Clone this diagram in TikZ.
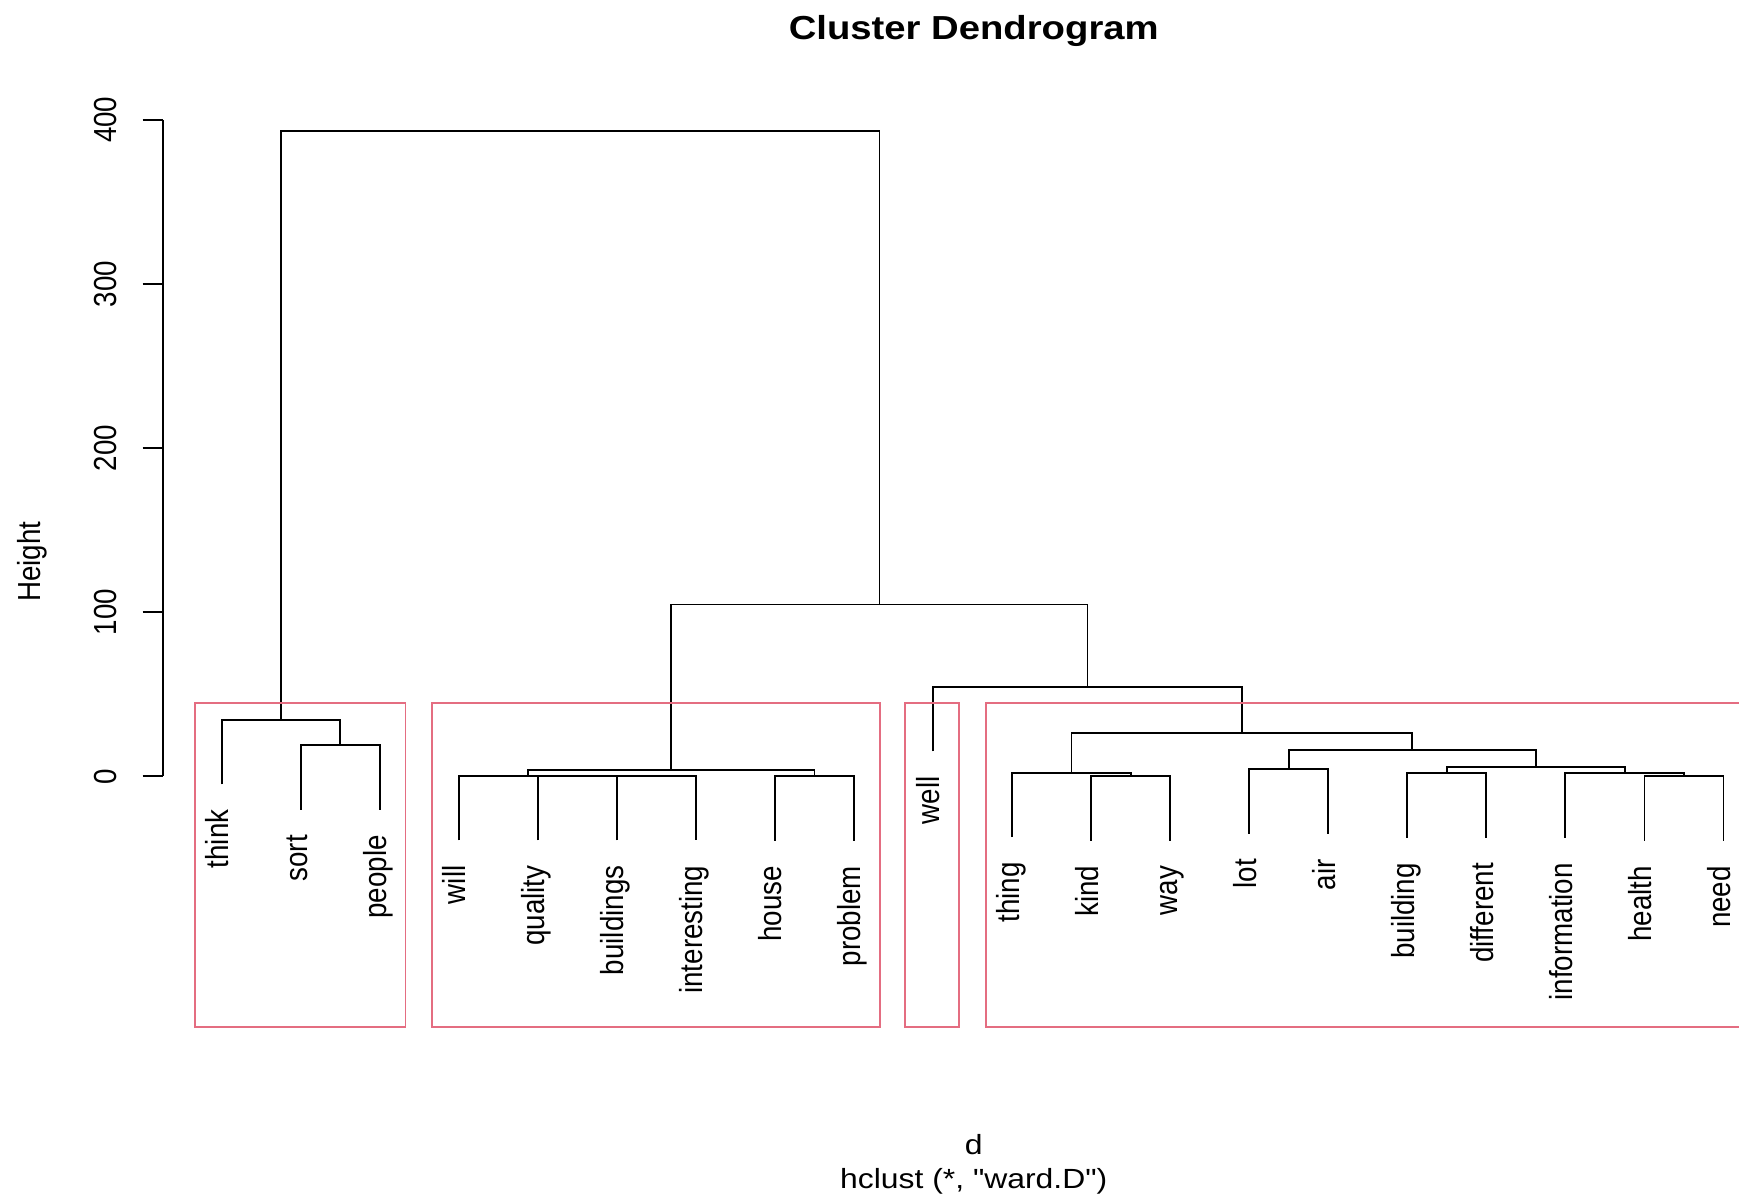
\documentclass[tikz,border=0pt]{standalone}
\usepackage{fontspec}
\setmainfont{Liberation Sans}[FakeStretch=1.15]
\newfontfamily\sidefont{Liberation Sans}[FakeStretch=0.87]
\newfontfamily\subfont{Liberation Sans}[FakeStretch=1.15]
\definecolor{boxred}{HTML}{DF536B}
\tikzset{
  leaflab/.style={rotate=90, anchor=base east, inner sep=0pt,
    font=\sidefont\fontsize{28.75}{34}\selectfont},
  ticklab/.style={rotate=90, anchor=base, inner sep=0pt,
    font=\sidefont\fontsize{28.75}{34}\selectfont},
  clusterbox/.style={draw=boxred!85!white, line width=1.6pt},
}
\begin{document}
\begin{tikzpicture}[x=1pt, y=-1pt, line width=1.6pt]
  \useasboundingbox (0,0) rectangle (1568,1079);

  % titles
  \node[anchor=base, font=\fontsize{30}{36}\selectfont\bfseries] (title) at (878,35.2) {Cluster Dendrogram};
  \node[anchor=base, font=\subfont\fontsize{25}{30}\selectfont] (xlab) at (878,1040.9) {d};
  \node[anchor=base, font=\subfont\fontsize{25}{30}\selectfont] (sub) at (878,1071.6) {hclust (*, "ward.D")};

  % height axis
  \node[ticklab] (ylab) at (36.7,506.5) {Height};
  \draw (146.7,108) -- (146.7,700);
  \draw (128.7,700) -- (146.7,700) (128.7,552) -- (146.7,552)
    (128.7,404) -- (146.7,404) (128.7,256) -- (146.7,256)
    (128.7,108) -- (146.7,108);
  \node[ticklab] (t0) at (105.2,700) {0};
  \node[ticklab] (t100) at (105.2,552) {100};
  \node[ticklab] (t200) at (105.2,404) {200};
  \node[ticklab] (t300) at (105.2,256) {300};
  \node[ticklab] (t400) at (105.2,108) {400};

  % leaf ends
  \coordinate (think) at (200,707.2);
  \coordinate (sort) at (271.26,730.2);
  \coordinate (people) at (342.52,730.2);
  \coordinate (will) at (413.78,757.7);
  \coordinate (quality) at (485.04,757.7);
  \coordinate (buildings) at (556.3,757.7);
  \coordinate (interesting) at (627.56,757.7);
  \coordinate (house) at (698.82,758.2);
  \coordinate (problem) at (770.08,758.2);
  \coordinate (well) at (841.34,677.4);
  \coordinate (thing) at (912.6,754.9);
  \coordinate (kind) at (983.86,757.9);
  \coordinate (way) at (1055.12,757.9);
  \coordinate (lot) at (1126.38,751.9);
  \coordinate (air) at (1197.64,751.9);
  \coordinate (building) at (1268.9,755.5);
  \coordinate (different) at (1340.16,755.5);
  \coordinate (information) at (1411.42,755.5);
  \coordinate (health) at (1482.68,758.2);
  \coordinate (need) at (1553.94,758.2);

  % leaf labels
  \node[leaflab] (l-think) at (206.2,729.2) {think};
  \node[leaflab] (l-sort) at (277.46,752.2) {sort};
  \node[leaflab] (l-people) at (348.72,752.2) {people};
  \node[leaflab] (l-will) at (419.98,779.7) {will};
  \node[leaflab] (l-quality) at (491.24,779.7) {quality};
  \node[leaflab] (l-buildings) at (562.5,779.7) {buildings};
  \node[leaflab] (l-interesting) at (633.76,779.7) {interesting};
  \node[leaflab] (l-house) at (705.02,780.2) {house};
  \node[leaflab] (l-problem) at (776.28,780.2) {problem};
  \node[leaflab] (l-well) at (847.54,699.4) {well};
  \node[leaflab] (l-thing) at (918.8,776.9) {thing};
  \node[leaflab] (l-kind) at (990.06,779.9) {kind};
  \node[leaflab] (l-way) at (1061.32,779.9) {way};
  \node[leaflab] (l-lot) at (1132.58,773.9) {lot};
  \node[leaflab] (l-air) at (1203.84,773.9) {air};
  \node[leaflab] (l-building) at (1275.1,777.5) {building};
  \node[leaflab] (l-different) at (1346.36,777.5) {different};
  \node[leaflab] (l-information) at (1417.62,777.5) {information};
  \node[leaflab] (l-health) at (1488.88,780.2) {health};
  \node[leaflab] (l-need) at (1560.14,780.2) {need};

  % merge points
  \coordinate (sp) at (306.89,672);
  \coordinate (c1) at (253.45,649);
  \coordinate (bi) at (591.93,699.5);
  \coordinate (qbi) at (538.49,699.5);
  \coordinate (wqbi) at (476.14,699.5);
  \coordinate (hp) at (734.45,700);
  \coordinate (c2) at (605.3,694.3);
  \coordinate (kw) at (1019.49,699.7);
  \coordinate (tkw) at (966.05,696.7);
  \coordinate (la) at (1162.01,693.7);
  \coordinate (bd) at (1304.53,697.3);
  \coordinate (hn) at (1518.31,700);
  \coordinate (ihn) at (1464.87,697.3);
  \coordinate (bdihn) at (1384.7,691.3);
  \coordinate (labd) at (1273.36,676.3);
  \coordinate (c4) at (1119.71,661.2);
  \coordinate (c34) at (980.53,619.2);
  \coordinate (c234) at (792.92,545);
  \coordinate (root) at (523.19,118);

  \draw (sort) |- (sp) -| (people);
  \draw (think) |- (c1) -| (sp);
  \draw (buildings) |- (bi) -| (interesting);
  \draw (quality) |- (qbi) -| (bi);
  \draw (will) |- (wqbi) -| (qbi);
  \draw (house) |- (hp) -| (problem);
  \draw (wqbi) |- (c2) -| (hp);
  \draw (kind) |- (kw) -| (way);
  \draw (thing) |- (tkw) -| (kw);
  \draw (lot) |- (la) -| (air);
  \draw (building) |- (bd) -| (different);
  \draw (health) |- (hn) -| (need);
  \draw (information) |- (ihn) -| (hn);
  \draw (bd) |- (bdihn) -| (ihn);
  \draw (la) |- (labd) -| (bdihn);
  \draw (tkw) |- (c4) -| (labd);
  \draw (well) |- (c34) -| (c4);
  \draw (c2) |- (c234) -| (c34);
  \draw (c1) |- (root) -| (c234);

  % cluster boxes
  \draw[clusterbox] (175.6,634.2) rectangle (365.6,925.8);
  \draw[clusterbox] (389.7,634.2) rectangle (793.7,925.8);
  \draw[clusterbox] (816.3,634.2) rectangle (864.7,925.8);
  \draw[clusterbox] (1568,634.2) -- (888.7,634.2) -- (888.7,925.8) -- (1568,925.8);
\end{tikzpicture}
\end{document}
